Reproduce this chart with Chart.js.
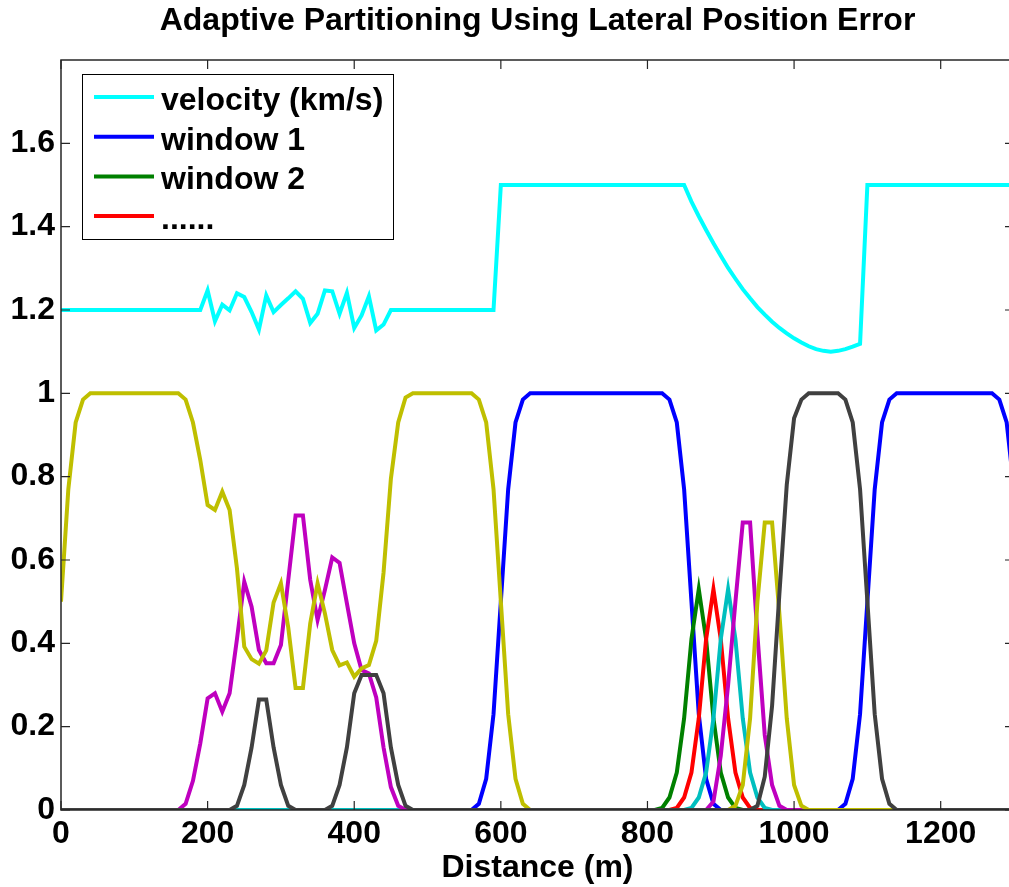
<!DOCTYPE html>
<html>
<head>
<meta charset="utf-8">
<script src="https://cdn.jsdelivr.net/npm/chart.js@4"></script>
<style>
  html, body { margin: 0; padding: 0; background: #fff; overflow: hidden; }
  #wrap { width: 1016px; height: 887px; }
</style>
</head>
<body>
<div id="wrap"><canvas id="chart" width="1016" height="887"></canvas></div>
<script>
// velocity profile (km/s)
const velX = [0, 190, 200, 210, 220, 230, 240, 250, 260, 270, 280, 290, 300, 310, 320, 330, 340, 350, 360, 370, 380, 390, 400, 410, 420, 430, 440, 450,
  590, 600, 850, 860, 870, 880, 890, 900, 910, 920, 930, 940, 950, 960, 970, 980, 990, 1000, 1010, 1020, 1030, 1040, 1050, 1060, 1070, 1080, 1090, 1100, 1300];
const velY = [1.2, 1.2, 1.247, 1.173, 1.213, 1.199, 1.24, 1.231, 1.195, 1.153, 1.235, 1.195, 1.212, 1.228, 1.245, 1.227, 1.169, 1.191, 1.247, 1.245, 1.191, 1.241, 1.157, 1.187, 1.233, 1.151, 1.165, 1.2,
  1.2, 1.5, 1.5, 1.46, 1.425, 1.392, 1.36, 1.33, 1.301, 1.275, 1.25, 1.228, 1.207, 1.189, 1.172, 1.157, 1.144, 1.132, 1.122, 1.113, 1.106, 1.102, 1.1, 1.102, 1.106, 1.112, 1.119, 1.5, 1.5];

// window 1 (blue)
const blueX = [0, 560, 570, 580, 590, 600, 610, 620, 630, 640, 820, 830, 840, 850, 860, 870, 880, 890, 900,
  1060, 1070, 1080, 1090, 1100, 1110, 1120, 1130, 1140, 1270, 1280, 1290, 1300];
const blueY = [0, 0, 0.015, 0.075, 0.23, 0.5, 0.77, 0.93, 0.985, 1, 1, 0.985, 0.93, 0.77, 0.5, 0.23, 0.075, 0.015, 0,
  0, 0.015, 0.075, 0.23, 0.5, 0.77, 0.93, 0.985, 1, 1, 0.985, 0.93, 0.77];

// window 2 (green)
const greenX = [0, 810, 820, 830, 840, 850, 860, 870, 880, 890, 900, 910, 920, 930, 1300];
const greenY = [0, 0, 0.005, 0.03, 0.09, 0.22, 0.41, 0.53, 0.41, 0.22, 0.09, 0.03, 0.005, 0, 0];

// window 3 (red)
const redX = [0, 830, 840, 850, 860, 870, 880, 890, 900, 910, 920, 930, 940, 950, 1300];
const redY = [0, 0, 0.005, 0.03, 0.09, 0.22, 0.41, 0.53, 0.41, 0.22, 0.09, 0.03, 0.005, 0, 0];

// window 4 (cyan)
const cyanX = [0, 850, 860, 870, 880, 890, 900, 910, 920, 930, 940, 950, 960, 970, 1300];
const cyanY = [0, 0, 0.005, 0.03, 0.09, 0.22, 0.41, 0.53, 0.41, 0.22, 0.09, 0.03, 0.005, 0, 0];

// window 5 (magenta)
const magX = [0, 160, 170, 180, 190, 200, 210, 220, 230, 240, 250, 260, 270, 280, 290, 300, 310, 320, 330, 340, 350, 360, 370, 380, 390, 400, 410, 420, 430, 440, 450, 460, 470,
  880, 890, 900, 910, 920, 930, 940, 950, 960, 970, 980, 990, 1300];
const magY = [0, 0, 0.015, 0.07, 0.16, 0.268, 0.28, 0.236, 0.28, 0.41, 0.548, 0.488, 0.384, 0.352, 0.352, 0.396, 0.552, 0.707, 0.707, 0.552, 0.456, 0.528, 0.606, 0.593, 0.496, 0.4, 0.336, 0.328, 0.27, 0.15, 0.055, 0.01, 0,
  0, 0.02, 0.13, 0.3, 0.5, 0.69, 0.69, 0.42, 0.18, 0.06, 0.01, 0, 0];

// window 6 (yellow)
const yelX = [0, 10, 20, 30, 40, 160, 170, 180, 190, 200, 210, 220, 230, 240, 250, 260, 270, 280, 290, 300, 310, 320, 330, 340, 350, 360, 370, 380, 390, 400, 410, 420, 430, 440, 450, 460, 470, 480,
  560, 570, 580, 590, 600, 610, 620, 630, 640, 910, 920, 930, 940, 950, 960, 970, 980, 990, 1000, 1010, 1020, 1300];
const yelY = [0.5, 0.77, 0.93, 0.985, 1, 1, 0.985, 0.93, 0.84, 0.732, 0.72, 0.764, 0.72, 0.58, 0.392, 0.362, 0.351, 0.383, 0.498, 0.544, 0.438, 0.293, 0.293, 0.448, 0.544, 0.472, 0.384, 0.347, 0.354, 0.32, 0.34, 0.348, 0.406, 0.57, 0.795, 0.93, 0.99, 1,
  1, 0.985, 0.93, 0.77, 0.5, 0.23, 0.075, 0.015, 0, 0, 0.01, 0.06, 0.22, 0.5, 0.69, 0.69, 0.47, 0.22, 0.06, 0.01, 0, 0];

// window 7 (dark grey)
const greyX = [0, 230, 240, 250, 260, 270, 280, 290, 300, 310, 320, 360, 370, 380, 390, 400, 410, 420, 430, 440, 450, 460, 470, 480,
  940, 950, 960, 970, 980, 990, 1000, 1010, 1020, 1060, 1070, 1080, 1090, 1100, 1110, 1120, 1130, 1140, 1300];
const greyY = [0, 0, 0.01, 0.06, 0.15, 0.265, 0.265, 0.15, 0.06, 0.01, 0, 0, 0.01, 0.06, 0.15, 0.28, 0.324, 0.324, 0.324, 0.28, 0.15, 0.06, 0.01, 0,
  0, 0.01, 0.08, 0.25, 0.52, 0.78, 0.94, 0.985, 1, 1, 0.985, 0.93, 0.77, 0.5, 0.23, 0.075, 0.015, 0, 0];

const xTicks = [0, 200, 400, 600, 800, 1000, 1200];
const yTicks = [0, 0.2, 0.4, 0.6, 0.8, 1, 1.2, 1.4, 1.6];

const FONT = "'Liberation Sans', Arial, Helvetica, sans-serif";

function pts(xs, ys) {
  return xs.map((x, i) => ({ x: x, y: ys[i] }));
}

function series(label, xs, ys, color, order) {
  return {
    label: label,
    data: pts(xs, ys),
    borderColor: color,
    backgroundColor: color,
    borderWidth: 4,
    pointRadius: 0,
    tension: 0,
    fill: false,
    order: order
  };
}

const datasets = [
  series("velocity (km/s)", velX, velY, "#00FFFF", 7),
  series("window 1", blueX, blueY, "#0000FF", 6),
  series("window 2", greenX, greenY, "#008000", 5),
  series("......", redX, redY, "#FF0000", 4),
  series("", cyanX, cyanY, "#00BFBF", 3),
  series("", magX, magY, "#BF00BF", 2),
  series("", yelX, yelY, "#BFBF00", 1),
  series("", greyX, greyY, "#404040", 0)
];

// MATLAB style box with inward ticks
const boxPlugin = {
  id: "box",
  afterDatasetsDraw(chart) {
    const { ctx, chartArea: a, scales } = chart;
    ctx.save();
    ctx.strokeStyle = "#262626";
    ctx.lineWidth = 1.5;
    ctx.strokeRect(a.left, a.top, a.right - a.left, a.bottom - a.top);
    ctx.lineWidth = 1.2;
    ctx.beginPath();
    scales.x.ticks.forEach(t => {
      const px = scales.x.getPixelForValue(t.value);
      ctx.moveTo(px, a.bottom); ctx.lineTo(px, a.bottom - 9);
      ctx.moveTo(px, a.top); ctx.lineTo(px, a.top + 9);
    });
    scales.y.ticks.forEach(t => {
      const py = scales.y.getPixelForValue(t.value);
      ctx.moveTo(a.left, py); ctx.lineTo(a.left + 9, py);
      ctx.moveTo(a.right, py); ctx.lineTo(a.right - 9, py);
    });
    ctx.stroke();
    ctx.restore();
  }
};

// legend box in the upper left corner
const legendPlugin = {
  id: "boxLegend",
  afterDraw(chart) {
    const ctx = chart.ctx;
    const items = chart.data.datasets.filter(d => d.label);
    const left = 82, top = 74, w = 311, h = 165;
    ctx.save();
    ctx.fillStyle = "#fff";
    ctx.fillRect(left, top, w, h);
    ctx.strokeStyle = "#000";
    ctx.lineWidth = 1;
    ctx.strokeRect(left + 0.5, top + 0.5, w, h);
    ctx.font = "bold 32px " + FONT;
    ctx.textBaseline = "alphabetic";
    ctx.textAlign = "left";
    items.forEach((d, i) => {
      const y = 97 + i * 39.7;
      ctx.strokeStyle = d.borderColor;
      ctx.lineWidth = 4;
      ctx.beginPath();
      ctx.moveTo(94, y);
      ctx.lineTo(154, y);
      ctx.stroke();
      ctx.fillStyle = "#000";
      ctx.fillText(d.label, 161, y + 13);
    });
    ctx.restore();
  }
};

new Chart(document.getElementById("chart"), {
  type: "line",
  data: { datasets: datasets },
  options: {
    responsive: false,
    animation: false,
    devicePixelRatio: 1,
    layout: { padding: { left: 0, right: 2, top: 0, bottom: 0 } },
    plugins: {
      legend: { display: false },
      tooltip: { enabled: false },
      title: {
        display: true,
        fullSize: false,
        text: "Adaptive Partitioning Using Lateral Position Error",
        color: "#000",
        font: { family: FONT, size: 32, weight: "bold" },
        padding: { top: 2.3, bottom: 19.3 }
      }
    },
    scales: {
      x: {
        type: "linear",
        min: 0,
        max: 1300,
        afterBuildTicks: s => { s.ticks = xTicks.map(v => ({ value: v })); },
        afterFit: s => { s.height = 77; },
        grid: { display: false, drawTicks: false },
        border: { display: false },
        ticks: {
          autoSkip: false,
          maxRotation: 0,
          padding: 5,
          color: "#000",
          font: { family: FONT, size: 32, weight: "bold" },
          callback: v => String(v)
        },
        title: {
          display: true,
          text: "Distance (m)",
          color: "#000",
          font: { family: FONT, size: 32, weight: "bold" },
          padding: 0
        }
      },
      y: {
        min: 0,
        max: 1.8,
        afterBuildTicks: s => { s.ticks = yTicks.map(v => ({ value: v })); },
        afterFit: s => { s.width = 61; },
        grid: { display: false, drawTicks: false },
        border: { display: false },
        ticks: {
          padding: 6,
          color: "#000",
          font: { family: FONT, size: 32, weight: "bold" },
          callback: v => String(Number(v.toFixed(1)))
        }
      }
    }
  },
  plugins: [boxPlugin, legendPlugin]
});
</script>
</body>
</html>
